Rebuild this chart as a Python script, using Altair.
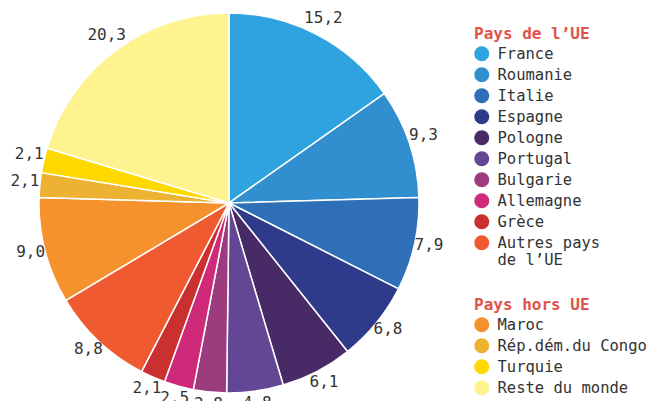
import altair as alt
import pandas as pd

eu_countries = ["France", "Roumanie", "Italie", "Espagne", "Pologne", "Portugal",
                "Bulgarie", "Allemagne", "Grèce", "Autres pays de l’UE"]
eu_values = [15.2, 9.3, 7.9, 6.8, 6.1, 4.8, 2.8, 2.5, 2.1, 8.8]
eu_colors = ["#2fa3df", "#318fcf", "#2f6fb7", "#2e3b8b", "#472a66", "#634795",
             "#9d3b7f", "#cf2a7a", "#c9302f", "#f05a30"]

non_eu_countries = ["Maroc", "Rép.dém.du Congo", "Turquie", "Reste du monde"]
non_eu_values = [9.0, 2.1, 2.1, 20.3]
non_eu_colors = ["#f5922e", "#edb232", "#fdd900", "#fff38f"]

rows = []
cum = 0.0
for group, names, vals in [("UE", eu_countries, eu_values),
                           ("hors UE", non_eu_countries, non_eu_values)]:
    for n, v in zip(names, vals):
        rows.append(dict(pays=n, valeur=v, groupe=group, debut=cum, fin=cum + v,
                         milieu=cum + v / 2, label=f"{v:.1f}".replace(".", ",")))
        cum += v
df = pd.DataFrame(rows)
total = cum

FONT = "DejaVu Sans Mono"
CX, CY = 221, 195
theta_scale = alt.Scale(domain=[0, total])
base = alt.Chart(df)

legend_common = dict(orient="none", symbolType="circle", symbolSize=225,
                     symbolStrokeWidth=0, labelFontSize=15.5, labelFont=FONT,
                     labelColor="#333333", titleFontSize=16, titleFont=FONT,
                     titleColor="#e0534a", titleFontWeight="bold",
                     titlePadding=4, rowPadding=4, labelOffset=8, padding=0,
                     labelLimit=300)

eu_arc = base.transform_filter(alt.datum.groupe == "UE").mark_arc(
    radius=190, stroke="white", strokeWidth=1.5
).encode(
    x=alt.value(CX), y=alt.value(CY),
    theta=alt.Theta("debut:Q", scale=theta_scale),
    theta2="fin:Q",
    color=alt.Color("pays:N", scale=alt.Scale(domain=eu_countries, range=eu_colors),
                    legend=alt.Legend(title="Pays de l’UE", legendX=466, legendY=18,
                                      labelExpr="datum.label == 'Autres pays de l’UE' ? ['Autres pays', 'de l’UE'] : datum.label",
                                      **legend_common)),
)

non_eu_arc = base.transform_filter(alt.datum.groupe == "hors UE").mark_arc(
    radius=190, stroke="white", strokeWidth=1.5
).encode(
    x=alt.value(CX), y=alt.value(CY),
    theta=alt.Theta("debut:Q", scale=theta_scale),
    theta2="fin:Q",
    color=alt.Color("pays:N", scale=alt.Scale(domain=non_eu_countries, range=non_eu_colors),
                    legend=alt.Legend(title="Pays hors UE", legendX=466, legendY=289,
                                      **legend_common)),
)

labels = base.mark_text(radius=205, dy=-3, fontSize=16, font=FONT, color="#333333").encode(
    x=alt.value(CX), y=alt.value(CY),
    theta=alt.Theta("milieu:Q", scale=theta_scale),
    text="label:N",
)

chart = alt.layer(eu_arc, non_eu_arc, labels).resolve_scale(
    color="independent"
).properties(
    width=643, height=393, padding=0,
    autosize=alt.AutoSizeParams(type="none")
).configure_view(stroke=None)

chart.save("out.html", embed_options={"renderer": "svg", "actions": False})
